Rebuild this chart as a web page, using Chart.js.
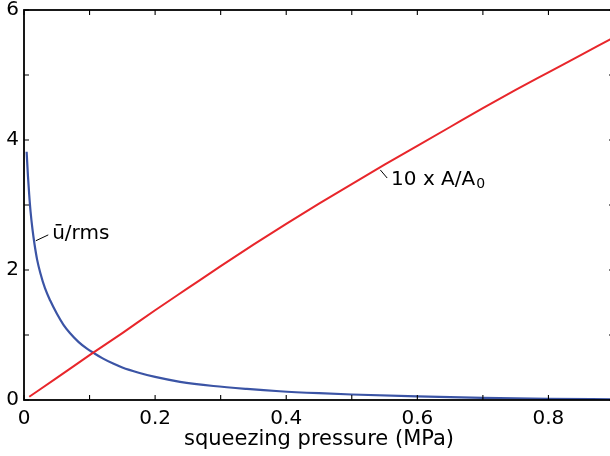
<!DOCTYPE html>
<html>
<head>
<meta charset="utf-8">
<script src="https://cdn.jsdelivr.net/npm/chart.js@4/dist/chart.umd.min.js"></script>
<style>
html,body{margin:0;padding:0;background:#fff;overflow:hidden;width:610px;height:456px;}
#wrap{position:absolute;left:0;top:0;width:620px;height:456px;}
</style>
</head>
<body>
<div id="wrap"><canvas id="c"></canvas></div>
<script>
// ---- data ----
const redX  = [0.008, 0.05, 0.1, 0.15, 0.2, 0.25, 0.3, 0.35, 0.4, 0.45, 0.5, 0.55, 0.6, 0.65, 0.7, 0.75, 0.8, 0.85, 0.9];
const redY  = [0.05, 0.34, 0.69, 1.03, 1.38, 1.72, 2.06, 2.39, 2.71, 3.02, 3.32, 3.62, 3.91, 4.20, 4.49, 4.77, 5.04, 5.31, 5.58];
const blueX = [0.004, 0.006, 0.008, 0.010, 0.013, 0.016, 0.020, 0.025, 0.032, 0.040, 0.050, 0.060, 0.070, 0.083, 0.096, 0.106, 0.120, 0.136, 0.150, 0.175, 0.200, 0.238, 0.289, 0.34, 0.39, 0.45, 0.5, 0.6, 0.7, 0.8, 0.9];
const blueY = [3.82, 3.45, 3.15, 2.90, 2.62, 2.40, 2.16, 1.95, 1.72, 1.53, 1.33, 1.16, 1.03, 0.895, 0.79, 0.725, 0.64, 0.56, 0.50, 0.42, 0.355, 0.28, 0.215, 0.17, 0.135, 0.105, 0.085, 0.055, 0.032, 0.017, 0.01];
const xTickValues = [0, 0.2, 0.4, 0.6, 0.8];
const xTickLabels = ['0', '0.2', '0.4', '0.6', '0.8'];
const yTickValues = [0, 2, 4, 6];
const yTickLabels = ['0', '2', '4', '6'];
const xTitle = 'squeezing pressure (MPa)';
const blueLabel = 'ū/rms';
const redLabel = '10 x A/A';
const redLabelSub = '0';

const FONT = '"DejaVu Sans", "Liberation Sans", Arial, sans-serif';
const RED = '#e8262b';
const BLUE = '#3b54a5';

function pts(xs, ys){ return xs.map((x,i)=>({x:x, y:ys[i]})); }
function lbl(vals, labels, v){
  for (let i=0;i<vals.length;i++){ if (Math.abs(vals[i]-v) < 1e-6) return labels[i]; }
  return '';
}

const framePlugin = {
  id: 'frame',
  afterDraw(chart){
    const {ctx, chartArea:a, scales} = chart;
    ctx.save();
    ctx.strokeStyle = '#000';
    ctx.lineWidth = 1.8;
    ctx.strokeRect(a.left, a.top, a.right - a.left, a.bottom - a.top);
    ctx.lineWidth = 1.1;
    ctx.beginPath();
    scales.x.ticks.forEach(t => {
      const px = scales.x.getPixelForValue(t.value);
      ctx.moveTo(px, a.bottom); ctx.lineTo(px, a.bottom - 5);
      ctx.moveTo(px, a.top); ctx.lineTo(px, a.top + 5);
    });
    scales.y.ticks.forEach(t => {
      const py = scales.y.getPixelForValue(t.value);
      ctx.moveTo(a.left, py); ctx.lineTo(a.left + 5, py);
      ctx.moveTo(a.right, py); ctx.lineTo(a.right - 5, py);
    });
    ctx.stroke();
    ctx.restore();
  }
};

const annotPlugin = {
  id: 'annot',
  afterDatasetsDraw(chart){
    const {ctx, scales:{x, y}} = chart;
    ctx.save();
    ctx.strokeStyle = '#000';
    ctx.lineWidth = 1;
    ctx.fillStyle = '#000';
    ctx.beginPath();
    ctx.moveTo(x.getPixelForValue(0.018), y.getPixelForValue(2.45));
    ctx.lineTo(x.getPixelForValue(0.037), y.getPixelForValue(2.54));
    ctx.stroke();
    ctx.font = '20px ' + FONT;
    ctx.textBaseline = 'alphabetic';
    ctx.fillText(blueLabel, x.getPixelForValue(0.043), y.getPixelForValue(2.48));
    ctx.beginPath();
    ctx.moveTo(x.getPixelForValue(0.5435), y.getPixelForValue(3.54));
    ctx.lineTo(x.getPixelForValue(0.554), y.getPixelForValue(3.415));
    ctx.stroke();
    const rx = x.getPixelForValue(0.560), ry = y.getPixelForValue(3.31);
    ctx.fillText(redLabel, rx, ry);
    const w = ctx.measureText(redLabel).width;
    ctx.font = '14px ' + FONT;
    ctx.fillText(redLabelSub, rx + w + 1, ry + 3);
    ctx.restore();
  }
};

new Chart(document.getElementById('c'), {
  type: 'scatter',
  data: {
    datasets: [
      { data: pts(redX, redY), showLine: true, borderColor: RED, borderWidth: 2, pointRadius: 0, cubicInterpolationMode: 'monotone', fill: false },
      { data: pts(blueX, blueY), showLine: true, borderColor: BLUE, borderWidth: 2.2, pointRadius: 0, cubicInterpolationMode: 'monotone', fill: false }
    ]
  },
  options: {
    responsive: true,
    maintainAspectRatio: false,
    animation: false,
    events: [],
    layout: { padding: { left: 0, right: 6, top: 10, bottom: 0 } },
    plugins: { legend: { display: false }, tooltip: { enabled: false } },
    scales: {
      x: {
        type: 'linear', min: 0, max: 0.9,
        grid: { display: false, drawTicks: false },
        border: { display: false },
        ticks: {
          stepSize: 0.1, autoSkip: false, maxRotation: 0, padding: 7,
          color: '#000', font: { family: FONT, size: 20 },
          callback: v => lbl(xTickValues, xTickLabels, v)
        },
        title: { display: true, text: xTitle, color: '#000', font: { family: FONT, size: 21 }, padding: { top: 0, bottom: 4 } },
        afterFit: s => { s.height = 56; s.paddingLeft = 0; s.paddingRight = 0; }
      },
      y: {
        type: 'linear', min: 0, max: 6,
        grid: { display: false, drawTicks: false },
        border: { display: false },
        ticks: {
          stepSize: 1, autoSkip: false, padding: 5,
          color: '#000', font: { family: FONT, size: 20 },
          callback: v => lbl(yTickValues, yTickLabels, v)
        },
        afterFit: s => { s.width = 24; s.paddingTop = 0; s.paddingBottom = 0; }
      }
    }
  },
  plugins: [framePlugin, annotPlugin]
});
</script>
</body>
</html>
